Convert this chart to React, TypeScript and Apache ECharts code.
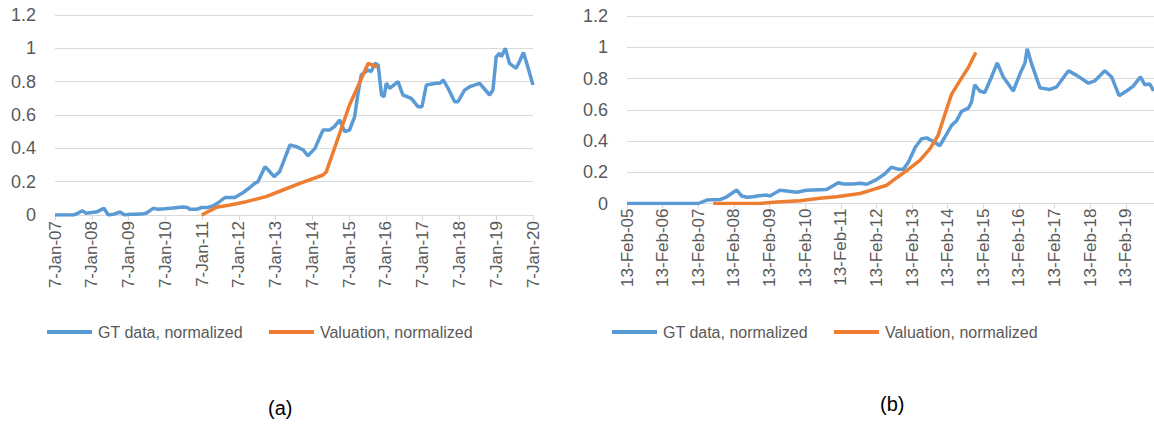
import React, { useEffect, useRef } from "react";
import * as echarts from "echarts";

// ---- Chart (a): weekly GT data vs valuation, x in calendar years ----
const gtYearsA = [
  2007.0, 2007.5, 2007.62, 2007.74, 2007.85, 2008.0, 2008.15, 2008.33, 2008.45, 2008.6,
  2008.77, 2008.9, 2009.05, 2009.22, 2009.4, 2009.49, 2009.67, 2009.8, 2009.99, 2010.2,
  2010.48, 2010.6, 2010.67, 2010.85, 2010.99, 2011.15, 2011.3, 2011.45, 2011.62, 2011.89,
  2012.12, 2012.3, 2012.43, 2012.52, 2012.71, 2012.8, 2012.96, 2013.11, 2013.39, 2013.57,
  2013.75, 2013.88, 2014.07, 2014.29, 2014.47, 2014.6, 2014.74, 2014.88, 2015.01, 2015.15,
  2015.24, 2015.33, 2015.51, 2015.6, 2015.7, 2015.79, 2015.88, 2015.95, 2016.01, 2016.1,
  2016.33, 2016.46, 2016.69, 2016.87, 2016.98, 2017.1, 2017.37, 2017.47, 2017.56, 2017.69,
  2017.87, 2017.96, 2018.14, 2018.28, 2018.55, 2018.82, 2018.91, 2019.0, 2019.09, 2019.14,
  2019.25, 2019.36, 2019.54, 2019.63, 2019.74, 2019.83, 2020.0,
];
const gtValuesA = [
  0, 0, 0.01, 0.025, 0.01, 0.015, 0.02, 0.04, 0.0, 0.005,
  0.018, 0.0, 0.005, 0.005, 0.008, 0.012, 0.04, 0.035, 0.038, 0.042,
  0.048, 0.045, 0.034, 0.034, 0.045, 0.045, 0.055, 0.075, 0.105, 0.105,
  0.135, 0.165, 0.19, 0.2, 0.29, 0.27, 0.23, 0.26, 0.42, 0.41,
  0.39, 0.355, 0.4, 0.51, 0.51, 0.53, 0.57, 0.5, 0.51, 0.59,
  0.73, 0.84, 0.87, 0.86, 0.91, 0.9, 0.72, 0.71, 0.79, 0.76,
  0.8, 0.72, 0.7, 0.65, 0.65, 0.78, 0.79, 0.79, 0.81, 0.76,
  0.68, 0.68, 0.75, 0.77, 0.79, 0.72, 0.75, 0.95, 0.97, 0.95,
  1.0, 0.91, 0.88, 0.92, 0.975, 0.91, 0.78,
];
const valYearsA = [2010.99, 2011.39, 2011.76, 2012.2, 2012.74, 2013.2, 2013.66, 2014.29, 2014.38, 2015.01, 2015.52, 2015.79];
const valValuesA = [0, 0.046, 0.06, 0.08, 0.11, 0.15, 0.19, 0.24, 0.26, 0.66, 0.91, 0.886];

// ---- Chart (b): x in years since 13-Feb-05 ----
const gtYearsB = [
  0, 2.0, 2.24, 2.61, 2.8, 3.08, 3.22, 3.36, 3.54, 3.7,
  3.92, 4.01, 4.29, 4.48, 4.76, 5.04, 5.6, 5.93, 6.07, 6.35,
  6.54, 6.73, 7.0, 7.24, 7.42, 7.6, 7.76, 7.9, 8.09, 8.27,
  8.41, 8.6, 8.78, 8.92, 9.11, 9.25, 9.39, 9.58, 9.67, 9.76,
  9.9, 10.04, 10.23, 10.39, 10.56, 10.84, 11.03, 11.17, 11.23, 11.36,
  11.59, 11.87, 12.06, 12.39, 12.62, 12.95, 13.13, 13.41, 13.6, 13.81,
  14.02, 14.2, 14.41, 14.53, 14.67, 14.78,
];
const gtValuesB = [
  0, 0, 0.022, 0.025, 0.043, 0.086, 0.048, 0.04, 0.043, 0.05,
  0.054, 0.048, 0.085, 0.08, 0.072, 0.085, 0.09, 0.133, 0.125, 0.125,
  0.13, 0.123, 0.153, 0.19, 0.233, 0.22, 0.22, 0.265, 0.36, 0.414,
  0.42, 0.397, 0.37, 0.424, 0.5, 0.53, 0.59, 0.61, 0.65, 0.76,
  0.72, 0.71, 0.81, 0.9, 0.81, 0.72, 0.83, 0.9, 0.99, 0.89,
  0.74, 0.73, 0.747, 0.85, 0.82, 0.77, 0.785, 0.85, 0.81, 0.69,
  0.72, 0.75, 0.81, 0.76, 0.765, 0.72,
];
const valYearsB = [2.42, 3.73, 4.2, 4.85, 5.41, 5.88, 6.54, 6.92, 7.29, 7.57, 7.85, 8.22, 8.5, 8.73, 8.92, 9.11, 9.34, 9.58, 9.79];
const valValuesB = [0, 0, 0.01, 0.018, 0.033, 0.043, 0.064, 0.09, 0.117, 0.165, 0.21, 0.276, 0.35, 0.435, 0.57, 0.7, 0.785, 0.87, 0.966];

const seriesNames = ["GT data, normalized", "Valuation, normalized"];
const panelLabels = ["(a)", "(b)"];
const yTicks = { min: 0, max: 1.2, interval: 0.2 };

const BLUE = "#5B9BD5";
const ORANGE = "#ED7D31";
const GREY = "#595959";
const GRID = "#D9D9D9";
const FONT = "Liberation Sans, Arial, sans-serif";

const zip = (xs: number[], ys: number[]) => xs.map((x, i) => [x, ys[i]]);
const yy = (n: number) => String(n % 100).padStart(2, "0");

export default function App() {
  const ref = useRef<HTMLDivElement>(null);
  useEffect(() => {
    if (!ref.current) return;
    const chart = echarts.init(ref.current, null, { renderer: "svg" });
    const yAxisBase = (gridIndex: number) => ({
      type: "value",
      gridIndex,
      min: yTicks.min,
      max: yTicks.max,
      interval: yTicks.interval,
      axisLine: { show: false },
      axisTick: { show: false },
      axisLabel: { color: GREY, fontSize: 18, fontFamily: FONT, margin: 19 },
      splitLine: { lineStyle: { color: GRID, width: 1 } },
    });
    const xAxisBase = (gridIndex: number) => ({
      type: "value",
      gridIndex,
      interval: 1,
      axisLine: { show: true, lineStyle: { color: GRID, width: 1 } },
      axisTick: { show: true, length: 5, lineStyle: { color: GRID } },
      splitLine: { show: false },
    });
    const lineSeries = (name: string, data: number[][], color: string, idx: number) => ({
      type: "line",
      name,
      xAxisIndex: idx,
      yAxisIndex: idx,
      data,
      showSymbol: false,
      symbol: "none",
      lineStyle: { color, width: 3.5 },
      itemStyle: { color },
      silent: true,
    });
    const legendBase = (left: number) => ({
      left,
      top: 319,
      data: seriesNames,
      icon: "rect",
      itemWidth: 45,
      itemHeight: 4,
      itemGap: 26,
      textStyle: { color: GREY, fontSize: 16, fontFamily: FONT, padding: [0, 0, 0, 1] },
    });
    chart.setOption({
      animation: false,
      grid: [
        { left: 55, top: 15, width: 478, height: 200 },
        { left: 627, top: 16, width: 527, height: 187.5 },
      ],
      xAxis: [
        {
          ...xAxisBase(0),
          min: 2007,
          max: 2020,
          axisLabel: {
            rotate: 90,
            color: GREY,
            fontSize: 17,
            fontFamily: FONT,
            margin: 6,
            formatter: (v: number) => "7-Jan-" + yy(v),
          },
        },
        {
          ...xAxisBase(1),
          min: 0,
          max: 14.79,
          axisLabel: {
            rotate: 90,
            color: GREY,
            fontSize: 17,
            fontFamily: FONT,
            margin: 5,
            showMaxLabel: false,
            formatter: (v: number) => (Math.abs(v - Math.round(v)) < 1e-6 ? "13-Feb-" + yy(5 + Math.round(v)) : ""),
          },
        },
      ],
      yAxis: [yAxisBase(0), yAxisBase(1)],
      legend: [legendBase(42), legendBase(607)],
      series: [
        lineSeries(seriesNames[0], zip(gtYearsA, gtValuesA), BLUE, 0),
        lineSeries(seriesNames[1], zip(valYearsA, valValuesA), ORANGE, 0),
        lineSeries(seriesNames[0], zip(gtYearsB, gtValuesB), BLUE, 1),
        lineSeries(seriesNames[1], zip(valYearsB, valValuesB), ORANGE, 1),
      ],
      graphic: [
        { type: "text", left: 268, top: 398, style: { text: panelLabels[0], fontSize: 20, fontFamily: FONT, fill: "#000" } },
        { type: "text", left: 880, top: 394, style: { text: panelLabels[1], fontSize: 20, fontFamily: FONT, fill: "#000" } },
      ],
    });
    return () => chart.dispose();
  }, []);
  return (
    <div
      ref={ref}
      style={{ position: "absolute", left: 0, top: 0, width: 1154, height: 435, background: "#fff" }}
    />
  );
}
